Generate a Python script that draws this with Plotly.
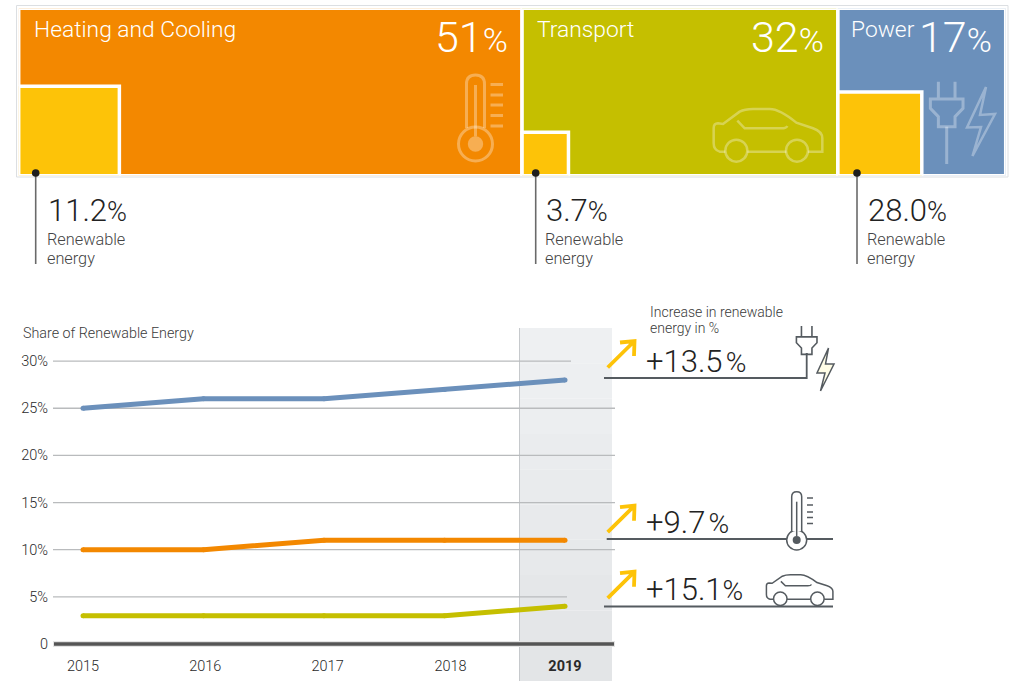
import re
import plotly.graph_objects as go

# ---- data ----
SECTORS = ["Heating and Cooling", "Transport", "Power"]
SECTOR_SHARE = [51, 32, 17]
SECTOR_COLORS = ["#f38800", "#c5bf00", "#6b90bb"]
RENEW_LABELS = ["11.2", "3.7", "28.0"]
RENEW_W = [10.2, 4.7, 8.5]
RENEW_H = [53.5, 26, 50]
YEARS = [2015, 2016, 2017, 2018, 2019]
POWER = [25, 26, 26, 27, 28]
HEATING = [10, 10, 11, 11, 11]
TRANSPORT = [3, 3, 3, 3, 4]
Y_TICKS = [0, 5, 10, 15, 20, 25, 30]
Y_LABELS = ["0", "5%", "10%", "15%", "20%", "25%", "30%"]
INCREASE = ["+13.5", "+9.7", "+15.1"]

W, H = 1018, 681
FONT = "Roboto"
DARK = "#2a2a2a"
YELLOW = "#fdc308"
GREY = "#555b60"
PALE = "rgba(255,255,255,0.32)"


def X(p):
    return p / W


def Y(p):
    return 1 - p / H


def to_paper(path):
    """Pixel-space SVG path -> paper-space path."""
    def conv(m):
        return f"{X(float(m.group(1))):.5f},{Y(float(m.group(2))):.5f}"
    return re.sub(r"(-?[\d.]+),(-?[\d.]+)", conv, path)


shapes = []
annotations = []


def path(d, color, width=1.5, fill=None, layer="above"):
    shapes.append(dict(type="path", path=to_paper(d), xref="paper", yref="paper",
                       line=dict(color=color, width=width),
                       fillcolor=fill or "rgba(0,0,0,0)", layer=layer))


def circle(cx, cy, r, color, width=1.5, fill=None):
    shapes.append(dict(type="circle", xref="paper", yref="paper",
                       x0=X(cx - r), x1=X(cx + r), y0=Y(cy + r), y1=Y(cy - r),
                       line=dict(color=color, width=width),
                       fillcolor=fill or "rgba(0,0,0,0)", layer="above"))


def text(x, y, s, size, color=DARK, anchor="left", weight=300):
    annotations.append(dict(x=X(x), y=Y(y), xref="paper", yref="paper", text=s, showarrow=False,
                            xanchor=anchor, yanchor="middle", align=anchor,
                            font=dict(family=FONT, size=size, color=color, weight=weight),
                            borderpad=0, borderwidth=0))


def num(x, y, value, big, small, color=DARK, anchor="left", gap=""):
    text(x, y, f'{value}{gap}<span style="font-size:{small}px">%</span>', big, color, anchor)


def car(ox, oy, sx, sy, color, width, wheel_fill=None):
    def P(x, y):
        return f"{ox + (x - 610) * sx:.2f},{oy + (y - 325) * sy:.2f}"
    d = ("M" + P(647, 455) + " L" + P(630, 455) + " Q" + P(612, 450) + " " + P(612, 430) +
         " L" + P(612, 385) + " Q" + P(612, 370) + " " + P(625, 370) + " L" + P(640, 372) +
         " L" + P(690, 335) + " Q" + P(705, 327) + " " + P(730, 327) + " L" + P(780, 327) +
         " Q" + P(810, 327) + " " + P(860, 368) + " L" + P(910, 385) + " Q" + P(938, 395) + " " + P(938, 415) +
         " L" + P(938, 455) + " L" + P(895, 455) + " M" + P(713, 455) + " L" + P(830, 455) +
         " M" + P(683, 362) + " L" + P(705, 385) + " L" + P(815, 385) + " Q" + P(830, 385) + " " + P(833, 378))
    path(d, color, width)
    for wx in (680, 862):
        circle(ox + (wx - 610) * sx, oy + (452 - 325) * sy, 33 * sx, color, width, wheel_fill)


def plug(cx, top, s, color, width, stem_end):
    def P(x, y):
        return f"{cx + x * s:.2f},{top + y * s:.2f}"
    d = ("M" + P(-25, 0) + " L" + P(-25, 52) + " M" + P(25, 0) + " L" + P(25, 52) +
         " M" + P(-49, 52) + " L" + P(49, 52) + " L" + P(49, 80) + " L" + P(25, 105) + " L" + P(25, 135) +
         " L" + P(-25, 135) + " L" + P(-25, 105) + " L" + P(-49, 80) + " Z")
    path(d, color, width)
    path(f"M{P(0, 135)} L{cx:.2f},{stem_end}", color, width)


def bolt(pts, color, width, fill=None):
    path("M" + " L".join(f"{a},{b}" for a, b in pts) + " Z", color, width, fill)


def thermometer(cx, top, neck, cy, hw, r, dot, ticks, tx0, tx1, color, width, stem_w, fill=None):
    d = (f"M{cx - hw},{neck} L{cx - hw},{top + hw} Q{cx - hw},{top} {cx},{top} "
         f"Q{cx + hw},{top} {cx + hw},{top + hw} L{cx + hw},{neck}")
    circle(cx, cy, r, color, width, fill)
    path(d, color, width, fill)
    path(f"M{cx},{top + 10} L{cx},{cy - dot}", color, stem_w)
    circle(cx, cy, dot, "rgba(0,0,0,0)", 0, color)
    for t in ticks:
        path(f"M{tx0},{t} L{tx1},{t}", color, width)


# ---- treemap block (bars on their own axes) ----
lefts = [sum(SECTOR_SHARE[:i]) for i in range(len(SECTOR_SHARE))]
traces = [
    go.Bar(x=[l + s / 2 for l, s in zip(lefts, SECTOR_SHARE)], y=[100] * 3, width=SECTOR_SHARE,
           marker=dict(color=SECTOR_COLORS, line=dict(color="white", width=3.5)),
           xaxis="x2", yaxis="y2", name="Share of energy", showlegend=False, hoverinfo="skip"),
    go.Bar(x=[l + w / 2 for l, w in zip(lefts, RENEW_W)], y=RENEW_H, width=RENEW_W,
           marker=dict(color=YELLOW, line=dict(color="white", width=3.5)),
           xaxis="x2", yaxis="y2", name="Renewable energy", showlegend=False, hoverinfo="skip"),
]

# ---- line chart ----
for name, vals, col in [("Power", POWER, SECTOR_COLORS[2]),
                        ("Heating and Cooling", HEATING, SECTOR_COLORS[0]),
                        ("Transport", TRANSPORT, SECTOR_COLORS[1])]:
    traces.append(go.Scatter(x=YEARS, y=vals, mode="lines+markers", name=name, showlegend=False,
                             line=dict(color=col, width=5), marker=dict(color=col, size=5),
                             cliponaxis=False))

# frame around treemap
shapes.append(dict(type="rect", xref="paper", yref="paper", x0=X(16.5), x1=X(1008), y0=Y(177), y1=Y(5.5),
                   line=dict(color="#dcdfe2", width=1), layer="below"))

# highlight band over 2019 (light at the top, a little darker at the foot)
BAND_STEPS = 10
for i in range(BAND_STEPS):
    top = 328 + (681 - 328) * i / BAND_STEPS
    bot = 328 + (681 - 328) * (i + 1) / BAND_STEPS
    g = 240 - 11 * i / (BAND_STEPS - 1)
    shapes.append(dict(type="rect", xref="paper", yref="paper", x0=X(519.5), x1=X(612), y0=Y(bot), y1=Y(top),
                       fillcolor=f"rgb({g - 2:.0f},{g:.0f},{g + 2:.0f})", line=dict(width=0), layer="below"))
shapes.append(dict(type="line", xref="paper", yref="paper", x0=X(519.5), x1=X(519.5), y0=0, y1=Y(328),
                   line=dict(color="#c6c9cc", width=1), layer="below"))

# gridlines
GRID_END = {30: 571, 25: 615, 20: 615, 15: 615, 10: 615, 5: 567}
for v, end in GRID_END.items():
    shapes.append(dict(type="line", xref="paper", yref="y", x0=X(53), x1=X(end), y0=v, y1=v,
                       line=dict(color="#b9bbbd", width=1.3), layer="below"))
shapes.append(dict(type="line", xref="paper", yref="y", x0=X(53), x1=X(615), y0=0, y1=0,
                   line=dict(color="#e4e4e4", width=6), layer="below"))
shapes.append(dict(type="line", xref="paper", yref="y", x0=X(54), x1=X(614), y0=0, y1=0,
                   line=dict(color="#555555", width=3.5), layer="below"))

# header labels
for x, s in zip([34, 537, 851], SECTORS):
    text(x, 29.5, s, 22.8, "white")
for x, v in zip([508, 824, 992], SECTOR_SHARE):
    num(x, 37, v, 43, 34, "white", "right")

# leaders under treemap
for x, tx, v in zip([35.7, 535.7, 857], [48, 545.5, 867.5], RENEW_LABELS):
    path(f"M{x},173 L{x},264", "#6a6a6a", 1.6)
    circle(x, 173, 3.8, "#1e1e1e", 0, "#1e1e1e")
    num(tx, 211, v, 31, 27, "#222222")
    text(tx - 1, 239, "Renewable", 16.3, "#444444")
    text(tx - 1, 258.5, "energy", 16.3, "#444444")

# pale icons inside treemap
thermometer(475.5, 75, 128, 144, 9, 17, 7.7, [84.5, 95, 105, 115.5, 126], 490.5, 503,
            PALE, 3, 3)
car(713, 108.3, 1 / 3, 1 / 3, PALE, 2.5)
plug(946.7, 81.7, 1 / 3, PALE, 3, 164)
bolt([(986, 87), (967, 127.5), (981, 127), (972.5, 156), (995, 114), (980, 115)], PALE, 2.5)

# chart title / notes
text(23, 333, "Share of Renewable Energy", 14.3, "#3a3a3a")
text(650, 312, "Increase in renewable", 14, "#3a3a3a")
text(650, 328, "energy in %", 14, "#3a3a3a")

# increase arrows + rules
for (tip_y, v, ty, gap) in [(341, INCREASE[0], 361.5, "\u200a"), (505.7, INCREASE[1], 522, "\u200a"),
                            (571.7, INCREASE[2], 589, "")]:
    path(f"M607.7,{tip_y + 26.5} L634.5,{tip_y} M620,{tip_y + 1.5} L634.5,{tip_y} L634,{tip_y + 15}",
         YELLOW, 3.8)
    num(645.5, ty, v, 31, 28, "#222222", gap=gap)
path("M604,378 L806.7,378 L806.7,353", GREY, 1.8)
path("M606.7,539 L833,539", GREY, 1.8)
path("M604,606.5 L833,606.5", GREY, 1.8)

# dark icons beside the chart
plug(806.7, 326, 0.21, GREY, 1.6, 353)
bolt([(828.5, 348), (817, 373), (825, 373), (820.5, 391), (834, 364), (825.5, 364)], GREY, 1.5, "#fffde6")
thermometer(796.7, 491.7, 531, 540, 5, 10, 4, [498, 505, 512, 517.5, 523.5], 807, 813,
            GREY, 1.5, 1.5, "white")
car(766, 574.3, 0.204, 0.192, GREY, 1.5, "white")

TICK_NUDGE = [0, 0.015, 0.03, 0.05, 0]
AXIS_FOOT = 652  # pixel row of the bottom of the line-chart axes, a little below the zero line

layout = go.Layout(
    width=W, height=H, margin=dict(l=0, r=0, t=0, b=0, pad=0, autoexpand=False),
    paper_bgcolor="white", plot_bgcolor="rgba(0,0,0,0)", barmode="overlay", showlegend=False,
    font=dict(family=FONT),
    xaxis=dict(domain=[X(53), X(615)], range=[2015 + (53 - 83) / 120.5, 2015 + (615 - 83) / 120.5],
               tickvals=[y + n for y, n in zip(YEARS, TICK_NUDGE)],
               ticktext=[str(y) for y in YEARS[:-1]] + [f"<b>{YEARS[-1]}</b>"],
               ticks="outside", ticklen=1, tickcolor="rgba(0,0,0,0)", showgrid=False, zeroline=False,
               showline=False, tickfont=dict(family=FONT, size=14.5, color="#2a2a2a", weight=300),
               anchor="y", fixedrange=True),
    yaxis=dict(domain=[Y(AXIS_FOOT), Y(300)], range=[(644 - AXIS_FOOT) / 9.43, (644 - 300) / 9.43],
               tickvals=Y_TICKS, ticktext=Y_LABELS,
               ticks="outside", ticklen=1, tickcolor="rgba(0,0,0,0)", showgrid=False, zeroline=False,
               showline=False, tickfont=dict(family=FONT, size=14.5, color="#2a2a2a", weight=300),
               anchor="x", fixedrange=True),
    xaxis2=dict(domain=[X(18.7), X(1005.7)], range=[0, 100], visible=False, anchor="y2", fixedrange=True),
    yaxis2=dict(domain=[Y(175.7), Y(8.3)], range=[0, 100], visible=False, anchor="x2", fixedrange=True),
    shapes=shapes, annotations=annotations,
)

fig = go.Figure(data=traces, layout=layout)
fig.write_html("out.html", config={"displayModeBar": False},
               post_script="document.body.style.margin='0';document.body.style.overflow='hidden';")
